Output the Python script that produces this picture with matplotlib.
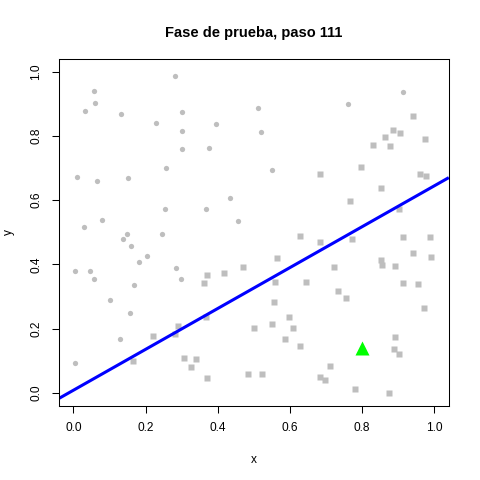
import numpy as np
import matplotlib
matplotlib.use("Agg")
import matplotlib.pyplot as plt

# points above the separating line (class 1, circles)
circ_x = [0.282, 0.058, 0.061, 0.033, 0.133, 0.301, 0.229, 0.395, 0.301, 0.301,
          0.376, 0.257, 0.011, 0.064, 0.152, 0.434, 0.254, 0.367, 0.080, 0.030,
          0.456, 0.149, 0.246, 0.914, 0.511, 0.760, 0.519, 0.550, 0.138, 0.160,
          0.204, 0.182, 0.003, 0.047, 0.058, 0.285, 0.298, 0.169, 0.102, 0.157,
          0.130, 0.003]
circ_y = [0.987, 0.940, 0.903, 0.878, 0.869, 0.875, 0.841, 0.837, 0.816, 0.760,
          0.763, 0.701, 0.673, 0.660, 0.670, 0.607, 0.573, 0.573, 0.539, 0.517,
          0.536, 0.495, 0.495, 0.937, 0.887, 0.900, 0.813, 0.694, 0.480, 0.458,
          0.427, 0.408, 0.380, 0.380, 0.353, 0.390, 0.356, 0.337, 0.290, 0.250,
          0.166, 0.094]

# points below the line (class -1, squares)
sq_x = [0.942, 0.884, 0.862, 0.906, 0.975, 0.830, 0.876, 0.796, 0.682, 0.959,
        0.977, 0.851, 0.765, 0.902, 0.627, 0.912, 0.989, 0.370, 0.417, 0.470,
        0.361, 0.367, 0.290, 0.221, 0.281, 0.501, 0.166, 0.305, 0.340, 0.326,
        0.371, 0.483, 0.684, 0.773, 0.563, 0.721, 0.853, 0.856, 0.890, 0.942,
        0.992, 0.558, 0.644, 0.912, 0.956, 0.733, 0.755, 0.555, 0.970, 0.596,
        0.550, 0.608, 0.585, 0.627, 0.890, 0.887, 0.903, 0.710, 0.522, 0.682,
        0.698, 0.780, 0.875]
sq_y = [0.864, 0.819, 0.798, 0.808, 0.791, 0.772, 0.768, 0.704, 0.682, 0.683,
        0.676, 0.637, 0.597, 0.572, 0.489, 0.485, 0.486, 0.367, 0.374, 0.393,
        0.342, 0.236, 0.208, 0.177, 0.182, 0.203, 0.099, 0.109, 0.104, 0.079,
        0.045, 0.057, 0.469, 0.480, 0.421, 0.393, 0.413, 0.399, 0.396, 0.436,
        0.424, 0.346, 0.346, 0.342, 0.340, 0.318, 0.295, 0.284, 0.264, 0.237,
        0.213, 0.203, 0.166, 0.146, 0.175, 0.137, 0.121, 0.082, 0.059, 0.048,
        0.040, 0.012, 0.000]

# current test point
test_x = [0.80]
test_y = [0.14]

# decision line y = a + b*x
intercept = 0.008
slope = 0.637

plt.rcParams['font.family'] = ['Liberation Sans', 'DejaVu Sans']

fig = plt.figure(figsize=(4.8, 4.8), dpi=100)
ax = fig.add_axes([0.123, 0.155, 0.812, 0.722])

ax.plot(circ_x, circ_y, 'o', color='#BEBEBE', ms=3.8, mec='none')
ax.plot(sq_x, sq_y, 's', color='#BEBEBE', ms=4.3, mec='none')

ax.set_xlim(-0.04, 1.04)
ax.set_ylim(-0.04, 1.04)
xx = np.array(ax.get_xlim())
ax.plot(xx, intercept + slope * xx, color='#0000FF', lw=2.2, solid_capstyle='butt')
ax.plot(test_x, test_y, '^', color='#00FF00', ms=9.5, mec='none')

ticks = [0.0, 0.2, 0.4, 0.6, 0.8, 1.0]
ax.set_xticks(ticks)
ax.set_yticks(ticks)
ax.set_xticklabels(['%.1f' % t for t in ticks])
ax.set_yticklabels(['%.1f' % t for t in ticks], rotation=90, va='center')
ax.tick_params(direction='out', length=5, width=0.75, labelsize=8.6, pad=7)
for s in ax.spines.values():
    s.set_linewidth(0.75)

ax.set_xlabel('x', fontsize=8.6, labelpad=14)
ax.set_ylabel('y', fontsize=8.6, labelpad=11)
ax.set_title('Fase de prueba, paso 111', fontsize=10.5, fontweight='bold', pad=16)

fig.savefig('out.png', dpi=100)
